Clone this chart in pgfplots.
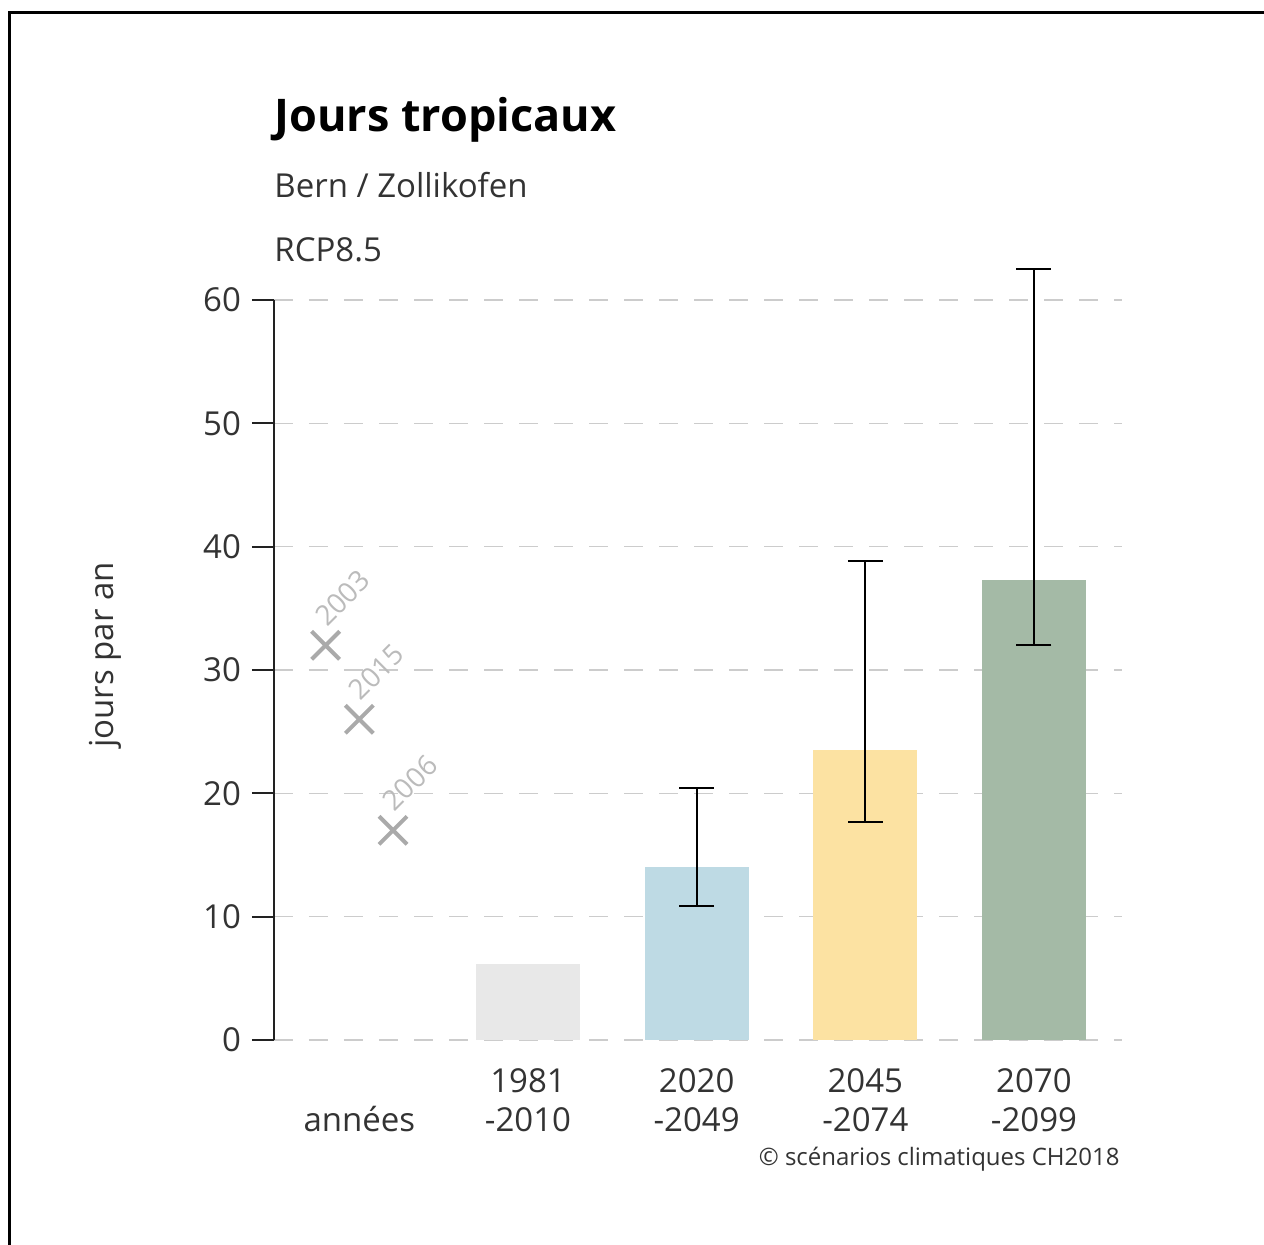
\documentclass[border=0pt]{standalone}
\usepackage{pgfplots}
\pgfplotsset{compat=1.18}
\usepackage{fontspec}
\setmainfont{Open Sans}
\definecolor{txt}{HTML}{333333}
\definecolor{axcol}{HTML}{222222}
\definecolor{gridgray}{HTML}{CCCCCC}
\definecolor{cA}{HTML}{E8E8E8}
\definecolor{cB}{HTML}{BEDAE4}
\definecolor{cC}{HTML}{FCE2A2}
\definecolor{cD}{HTML}{A4BAA6}
\definecolor{crossgray}{HTML}{AAAAAA}
\definecolor{labgray}{HTML}{BBBBBB}
\begin{document}
\begin{tikzpicture}
\useasboundingbox (-137pt,-102.5pt) rectangle (495pt,520pt);
\draw[line width=1.6pt] (-132.25pt,-102.5pt) -- (-132.25pt,513.75pt) -- (495pt,513.75pt);
\begin{axis}[
  at={(0,0)}, anchor=south west,
  scale only axis, width=424pt, height=370pt,
  xmin=-0.506, xmax=4.522, ymin=0, ymax=60,
  clip=false,
  axis y line*=left, axis x line*=bottom,
  x axis line style={draw=none},
  y axis line style={line width=1pt, color=axcol, -},
  xtick={0,1,2,3,4},
  xticklabels={{\vphantom{1981}\\années},{1981\\-2010},{2020\\-2049},{2045\\-2074},{2070\\-2099}},
  xtick style={draw=none},
  ytick={0,10,20,30,40,50,60},
  ytick style={line width=1pt, color=axcol},
  tick align=outside, major tick length=11pt,
  ymajorgrids,
  grid style={dash pattern=on 9.5pt off 8pt, color=gridgray, line width=0.8pt},
  /pgf/number format/assume math mode=true,
  yticklabel style={font=\fontsize{16.5}{19.5}\selectfont, text=txt, xshift=-2pt},
  xticklabel style={font=\fontsize{16.5}{19.5}\selectfont, text=txt, align=center},
]
\addplot[ybar, bar width=52pt, bar shift=0pt, fill=cA, draw=none] coordinates {(1,6.2)};
\addplot[ybar, bar width=52pt, bar shift=0pt, fill=cB, draw=none,
  error bars/.cd, y dir=both, y explicit,
  error bar style={line width=1pt, color=black},
  error mark options={rotate=90, mark size=8.75pt, line width=1pt, color=black}]
  coordinates {(2,14) += (0,6.4) -= (0,3.1)};
\addplot[ybar, bar width=52pt, bar shift=0pt, fill=cC, draw=none,
  error bars/.cd, y dir=both, y explicit,
  error bar style={line width=1pt, color=black},
  error mark options={rotate=90, mark size=8.75pt, line width=1pt, color=black}]
  coordinates {(3,23.5) += (0,15.3) -= (0,5.8)};
\addplot[ybar, bar width=52pt, bar shift=0pt, fill=cD, draw=none,
  error bars/.cd, y dir=both, y explicit,
  error bar style={line width=1pt, color=black},
  error mark options={rotate=90, mark size=8.75pt, line width=1pt, color=black}]
  coordinates {(4,37.3) += (0,25.2) -= (0,5.3)};
\addplot[only marks, mark=x, mark size=9.9pt, mark options={line width=2pt, color=crossgray},
  point meta=explicit symbolic, nodes near coords,
  nodes near coords style={anchor=base west, inner sep=0pt, xshift=0pt, yshift=8pt, rotate=45,
    font=\fontsize{14}{16.5}\selectfont, text=labgray}]
  coordinates {(-0.2,32) [2003] (0,26) [2015] (0.2,17) [2006]};
\end{axis}
\node[anchor=base west, inner sep=0pt, font=\bfseries\fontsize{22.5}{26}\selectfont] at (0pt,454pt) {Jours tropicaux};
\node[anchor=base west, inner sep=0pt, text=txt, font=\fontsize{16.5}{19.5}\selectfont] at (0pt,421pt) {Bern / Zollikofen};
\node[anchor=base west, inner sep=0pt, text=txt, font=\fontsize{16.5}{19.5}\selectfont] at (0pt,389pt) {RCP8.5};
\node[anchor=base east, inner sep=0pt, text=txt, font=\fontsize{12}{14}\selectfont] at (423pt,-63pt) {© scénarios climatiques CH2018};
\node[rotate=90, inner sep=0pt, text=txt, font=\fontsize{16.5}{19.5}\selectfont] at (-84.5pt,192.5pt) {jours par an};
\end{tikzpicture}
\end{document}
